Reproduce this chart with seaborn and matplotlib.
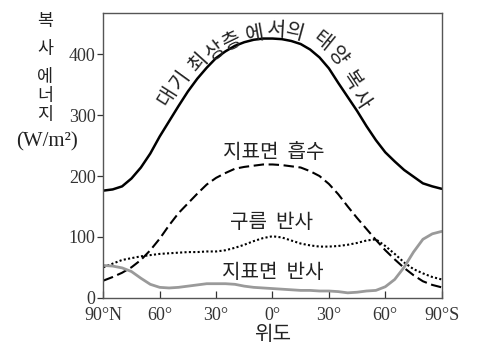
import numpy as np
import pandas as pd
import matplotlib
matplotlib.use('Agg')
import matplotlib.pyplot as plt
import seaborn as sns

# latitude: negative = north, positive = south
lat = [-90, -85, -80, -75, -70, -65, -60, -55, -50, -45, -40, -35, -30, -25, -20, -15, -10, -5,
       0, 5, 10, 15, 20, 25, 30, 35, 40, 45, 50, 55, 60, 65, 70, 75, 80, 85, 90]

# solar radiation at top of atmosphere
toa = [176, 178, 183, 196, 214, 237, 265, 290, 315, 339, 360, 378, 394, 405, 414, 420, 424, 426,
       426, 425, 422, 417, 408, 395, 377, 353, 330, 307, 282, 259, 239, 224, 210, 199, 188, 183, 179]

# surface absorption
absorb = [28, 34, 41, 50, 62, 78, 97, 119, 139, 155, 171, 186, 197, 205, 212, 215, 217, 219,
          219, 218, 216, 214, 208, 200, 187, 170, 150, 131, 113, 95, 78, 63, 49, 37, 27, 21, 17]

# cloud reflection
cloud = [50, 56, 62, 65, 68, 70, 72, 73, 74, 75, 75, 76, 76, 78, 82, 87, 93, 98,
         101, 99, 94, 89, 86, 84, 84, 85, 87, 90, 94, 96, 85, 72, 58, 47, 40, 34, 30]

# surface reflection
surface = [53, 52, 49, 43, 32, 22, 17, 16, 17, 19, 21, 23, 23, 23, 22, 19, 17, 16,
           15, 14, 13, 12, 12, 11, 11, 10, 8, 9, 11, 12, 18, 30, 50, 75, 96, 105, 109]

xticks = [-90, -60, -30, 0, 30, 60, 90]
xticklabels = ['90°N', '60°', '30°', '0°', '30°', '60°', '90°S']
yticks = [0, 100, 200, 300, 400]

# curved label along the top curve
toa_chars = ['대', '기', '최', '상', '층', '에', '서', '의', '태', '양', '복', '사']
toa_char_lat = [-56.3, -49.2, -39.5, -30.8, -21.3, -9.6, 1.6, 12.0, 26.5, 34.5, 42.1, 46.8]
toa_char_val = [331, 358, 388, 405, 421, 434, 440, 437, 422, 396, 357, 326]

df = pd.DataFrame({'lat': lat, 'toa': toa, 'absorb': absorb, 'cloud': cloud, 'surface': surface})

sns.set_style('ticks')
plt.rcParams['font.family'] = ['Liberation Serif', 'Noto Sans CJK KR']
kr = 'Noto Sans CJK KR'
txt_col = '#222222'
kr_size = 14.5

fig = plt.figure(figsize=(4.84, 3.44), dpi=100)
ax = fig.add_axes([0.2134, 0.1346, 0.6992, 0.8276])

sns.lineplot(data=df, x='lat', y='toa', ax=ax, color='black', lw=1.8)
sns.lineplot(data=df, x='lat', y='absorb', ax=ax, color='black', lw=1.5, linestyle=(0, (5, 2.2)))
sns.lineplot(data=df, x='lat', y='cloud', ax=ax, color='black', lw=1.5, linestyle=(0, (1, 1.1)))
sns.lineplot(data=df, x='lat', y='surface', ax=ax, color='#9a9a9a', lw=2.0)

ax.set_xlim(-90, 90)
ax.set_ylim(0, 468)
ax.set_xticks(xticks)
ax.set_xticklabels(xticklabels)
ax.set_yticks(yticks)
ax.tick_params(axis='x', direction='in', length=5, width=0.9, pad=6.5, labelsize=13, colors='#333333')
ax.tick_params(axis='y', direction='out', length=4, width=0.9, pad=1.5, labelsize=13, colors='#333333')
for s in ax.spines.values():
    s.set_visible(True)
    s.set_color('#555555')
    s.set_linewidth(1.0)

ax.set_xlabel('위도', family=kr, fontsize=kr_size, color=txt_col, labelpad=0)
ax.set_ylabel('')

# y label, stacked vertically
for ch, yy in zip(['복', '사', '에', '너', '지'], [21, 49, 77, 96, 115]):
    fig.text(45 / 484, 1 - yy / 344, ch, family=kr, fontsize=12.5, color=txt_col, ha='center', va='center')
fig.text(47 / 484, 1 - 142 / 344, '(W/m²)', fontsize=15, color=txt_col, ha='center', va='center')

# curved text along the top-of-atmosphere curve
dense_lat = np.linspace(-90, 90, 721)
dense_val = np.interp(dense_lat, lat, toa)
pts = ax.transData.transform(np.column_stack([dense_lat, dense_val]))
for ch, cl, cv in zip(toa_chars, toa_char_lat, toa_char_val):
    p = ax.transData.transform((cl, cv))
    i = np.argmin(((pts - p) ** 2).sum(axis=1))
    d = pts[min(i + 8, len(pts) - 1)] - pts[max(i - 8, 0)]
    ang = np.degrees(np.arctan2(d[1], d[0]))
    ax.text(cl, cv, ch, rotation=ang, rotation_mode='anchor', ha='center', va='center',
            family=kr, fontsize=kr_size, color=txt_col)

ax.text(0.8, 239, '지표면  흡수', family=kr, fontsize=kr_size, color=txt_col, ha='center', va='center')
ax.text(-0.3, 124, '구름  반사', family=kr, fontsize=kr_size, color=txt_col, ha='center', va='center')
ax.text(0, 41, '지표면  반사', family=kr, fontsize=kr_size, color=txt_col, ha='center', va='center')

plt.savefig('out.png', dpi=100)
